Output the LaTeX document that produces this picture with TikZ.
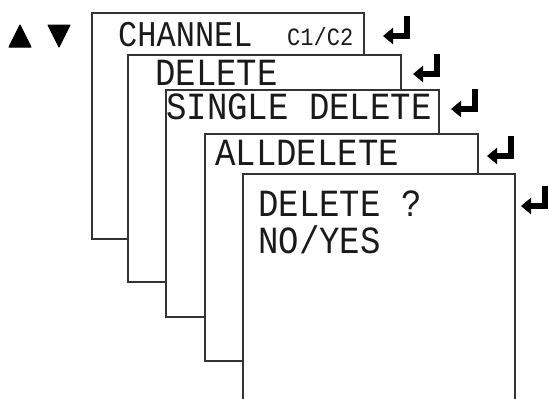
\documentclass[tikz,border=0pt]{standalone}
\usepackage{fontspec}
\newfontfamily\lcd{Liberation Mono}
\usetikzlibrary{arrows.meta}
\definecolor{edge}{HTML}{333333}
\definecolor{ink}{HTML}{1A1A1A}
\newcommand{\tallfont}[1]{\scalebox{1}[1.13]{#1}}
\tikzset{
  screen/.style={draw=edge, line width=1.1pt, fill=white, anchor=north west, inner sep=0pt, outer sep=0pt},
  lcdtext/.style={anchor=base west, inner sep=0pt, text height=25pt, text depth=0pt, text=ink, font=\lcd\fontsize{34}{34}\selectfont},
  lcdsmall/.style={anchor=base west, inner sep=0pt, text height=16pt, text depth=0pt, text=ink, font=\lcd\fontsize{22}{22}\selectfont},
  enter/.pic={\draw[line width=6pt, line join=miter, -{Triangle[length=10pt,width=16pt]}] (0,-20) -- (0,0) -- (-24,0);},
  keytri/.style={fill=black, draw=black, line width=1pt, line join=round}
}
\begin{document}
\begin{tikzpicture}[x=1pt, y=-1pt]
\useasboundingbox (0,0) rectangle (549,399);
% screens
\node[screen, minimum width=272pt, minimum height=226pt] (s1) at (92,13) {};
\node[screen, minimum width=273pt, minimum height=227pt] (s2) at (128,55) {};
\node[screen, minimum width=273pt, minimum height=227pt] (s3) at (166,90) {};
\node[screen, minimum width=273pt, minimum height=227pt] (s4) at (205,134) {};
\node[screen, minimum width=272pt, minimum height=240pt] (s5) at (243,174) {};
% texts
\node[lcdtext, font=\lcd\fontsize{32}{32}\selectfont] (t1) at (118,46) {\tallfont{CHANNEL}};
\node[lcdsmall] (t1b) at (287,45) {\tallfont{C1/C2}};
\node[lcdtext] (t2) at (155,85) {\tallfont{DELETE}};
\node[lcdtext] (t3) at (166,119) {\tallfont{SINGLE DELETE}};
\node[lcdtext] (t4) at (215,165) {\tallfont{ALLDELETE}};
\node[lcdtext] (t5) at (258,216) {\tallfont{DELETE ?}};
\node[lcdtext] (t6) at (258,253) {\tallfont{NO/YES}};
% enter keys
\pic at (407,36) {enter};
\pic at (437,74) {enter};
\pic at (475,109) {enter};
\pic at (511,156) {enter};
\pic at (545,206) {enter};
% up / down keys
\filldraw[keytri] (20,25) -- (31,47) -- (9,47) -- cycle;
\filldraw[keytri] (48,25) -- (70,25) -- (59,47) -- cycle;
\end{tikzpicture}
\end{document}
